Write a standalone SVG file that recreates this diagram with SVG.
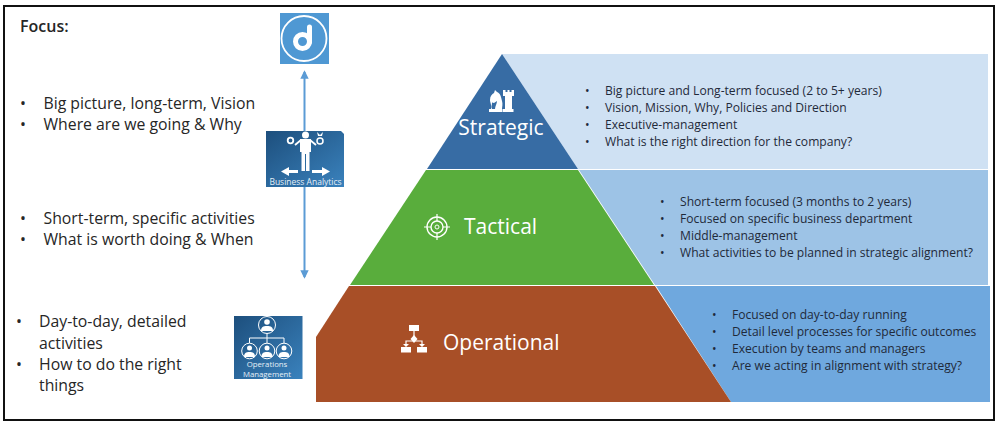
<svg xmlns="http://www.w3.org/2000/svg" width="1000" height="427" viewBox="0 0 1000 427">
<style>
text{font-family:"Open Sans","Noto Sans","Liberation Sans",sans-serif}
.side{font-size:15.800px;fill:#262626}
.body{font-size:12.100px;fill:#1f2a3a}
.lvl{font-size:21px;fill:#fff}
.ic{fill:#fff;stroke:none}
.icl{fill:none;stroke:#fff}
.conn{stroke:#5b9bd5;stroke-width:2;fill:none}
</style>
<defs>
<linearGradient id="blue" x1="0" y1="0" x2="1" y2="1"><stop offset="0" stop-color="#1d4f7d"/><stop offset="1" stop-color="#3a82bd"/></linearGradient>
<marker id="arr" viewBox="0 0 10 10" refX="8" refY="5" markerWidth="4.200" markerHeight="4.500" orient="auto-start-reverse"><path d="M0 0L10 5L0 10Z" fill="#5b9bd5"/></marker>
</defs>
<rect width="1000" height="427" fill="#fff"/>
<rect x="4" y="6" width="990" height="414" fill="#fff" stroke="#111" stroke-width="2"/>

<g id="connectors">
<path class="conn" d="M304.500 72V277" marker-start="url(#arr)" marker-end="url(#arr)"/>
</g>

<g id="panel-strategic"><path d="M502 54H988V169H578Z" fill="#cfe1f3"/>
<text class="body"><tspan x="585" y="95">•</tspan><tspan x="605" y="95">Big picture and Long-term focused (2 to 5+ years)</tspan><tspan x="585" y="112">•</tspan><tspan x="605" y="112">Vision, Mission, Why, Policies and Direction</tspan><tspan x="585" y="129">•</tspan><tspan x="605" y="129">Executive-management</tspan><tspan x="585" y="146">•</tspan><tspan x="605" y="146">What is the right direction for the company?</tspan></text></g>

<g id="panel-tactical"><path d="M579 170H988V285H655Z" fill="#9dc3e6"/>
<text class="body"><tspan x="660" y="206">•</tspan><tspan x="680" y="206">Short-term focused (3 months to 2 years)</tspan><tspan x="660" y="223">•</tspan><tspan x="680" y="223">Focused on specific business department</tspan><tspan x="660" y="240">•</tspan><tspan x="680" y="240">Middle-management</tspan><tspan x="660" y="257">•</tspan><tspan x="680" y="257">What activities to be planned in strategic alignment?</tspan></text></g>

<g id="panel-operational"><path d="M656 286H990V402H731Z" fill="#6fa8de"/>
<text class="body"><tspan x="712" y="319">•</tspan><tspan x="732" y="319">Focused on day-to-day running</tspan><tspan x="712" y="336">•</tspan><tspan x="732" y="336">Detail level processes for specific outcomes</tspan><tspan x="712" y="353">•</tspan><tspan x="732" y="353">Execution by teams and managers</tspan><tspan x="712" y="370">•</tspan><tspan x="732" y="370">Are we acting in alignment with strategy?</tspan></text></g>

<g id="strategic"><path d="M502 54L578 169H427Z" fill="#376ca4"/>
<path class="ic" d="M491 109c1-4-1-6-1-9 0-4 2-6 4-7l1-3 2 2c3 1 4 4 5 9 1 3 0 6 0 8h-7c0-3 2-5 2-8l-3 2c-1 0-2-1-2 0 0 2-1 4 0 6Z"/>
<path class="ic" d="M503 90h2.500v2h2v-2h2v2h2v-2h2.500v6h-2v13h-7V96h-2Z"/>
<rect class="ic" x="489" y="109" width="13" height="3"/>
<rect class="ic" x="502.500" y="109" width="11" height="3"/>
<text class="lvl" x="501" y="135" text-anchor="middle">Strategic</text></g>

<g id="tactical"><path d="M426 170H578L654 285H350Z" fill="#59ad3c"/>
<circle class="icl" cx="437" cy="227" r="10" stroke-width="1.400"/>
<circle class="icl" cx="437" cy="227" r="6" stroke-width="1.400"/>
<circle class="icl" cx="437" cy="227" r="2" stroke-width="1"/>
<path class="icl" d="M437 214v7M437 233v7M424 227h7M443 227h7" stroke-width="1.200"/>
<text class="lvl" x="464" y="234">Tactical</text></g>

<g id="operational"><path d="M349 286H655L731 402H316V337Z" fill="#a84f27"/>
<rect class="ic" x="409" y="325" width="10" height="6"/>
<path class="icl" d="M414 331v8M406 345v-4h16v4" stroke-width="1.200"/>
<path class="ic" d="M414 335l3.500 4-3.500 4-3.500-4ZM403 344h6l-3 3ZM419 344h6l-3 3Z"/>
<rect class="ic" x="401" y="347" width="10" height="5.500"/>
<rect class="ic" x="417" y="347" width="10" height="5.500"/>
<text class="lvl" x="443" y="350">Operational</text></g>

<g id="focus-label"><text x="20" y="32" font-size="16" font-weight="600" fill="#262626">Focus:</text></g>

<g id="focus-strategic"><text class="side"><tspan x="20" y="109">•</tspan><tspan x="43.500" y="109">Big picture, long-term, Vision</tspan><tspan x="20" y="130">•</tspan><tspan x="43.500" y="130">Where are we going &amp; Why</tspan></text></g>
<g id="focus-tactical"><text class="side"><tspan x="20" y="224">•</tspan><tspan x="43.500" y="224">Short-term, specific activities</tspan><tspan x="20" y="245">•</tspan><tspan x="43.500" y="245">What is worth doing &amp; When</tspan></text></g>
<g id="focus-operational"><text class="side"><tspan x="16" y="327">•</tspan><tspan x="39" y="327">Day-to-day, detailed</tspan><tspan x="39" y="348.500">activities</tspan><tspan x="16" y="370">•</tspan><tspan x="39" y="370">How to do the right</tspan><tspan x="39" y="391">things</tspan></text></g>

<g id="d-logo"><rect x="280" y="13" width="49" height="51" fill="#4f98d3"/>
<circle cx="304" cy="38.500" r="22.500" fill="none" stroke="#fff" stroke-width="1.800"/>
<circle cx="302.500" cy="41.500" r="7" fill="none" stroke="#fff" stroke-width="5"/>
<path d="M309.500 27V42" stroke="#fff" stroke-width="5" stroke-linecap="round" fill="none"/></g>

<g id="business-analytics"><path d="M266 131H341L344 134V187H266Z" fill="url(#blue)"/>
<circle class="ic" cx="305.500" cy="135" r="3.500"/>
<path class="ic" d="M300 139h11v13h-1.500v19h-3.500v-17h-1v17h-3.500v-19H300Z"/>
<path class="icl" d="M301 140L295 145M310 140L316 145" stroke-width="1.800"/>
<circle class="icl" cx="290.500" cy="140.500" r="2.800" stroke-width="1.800"/>
<circle class="icl" cx="320" cy="141" r="3" stroke-width="1.500"/>
<path class="ic" d="M317 132l3 3 3-3-1 4h-4Z"/>
<path class="ic" d="M281 171.500L289 167V170H298V173H289V176Z"/>
<path class="ic" d="M330 171.500L322 167V170H312V173H322V176Z"/>
<text x="305.500" y="185" font-size="8.500" fill="#e6f0f8" text-anchor="middle">Business Analytics</text></g>

<g id="operations-management"><rect x="234" y="316" width="68.500" height="63" fill="url(#blue)"/>
<g class="icl" stroke-width="1">
<circle cx="267" cy="325" r="8.500"/><circle cx="249.500" cy="351" r="7.800"/><circle cx="267" cy="351" r="7.800"/><circle cx="284" cy="351" r="7.800"/>
<path d="M267 333.500V338M249.500 343V338H284V343M267 338V343"/></g>
<g class="ic"><circle cx="267" cy="322" r="2.800"/><path d="M261 331c0-4 2-5 6-5s6 1 6 5Z"/>
<circle cx="249.500" cy="348" r="2.500"/><path d="M244 357c0-4 2-5 5.500-5s5.500 1 5.500 5Z"/>
<circle cx="267" cy="348" r="2.500"/><path d="M261.500 357c0-4 2-5 5.500-5s5.500 1 5.500 5Z"/>
<circle cx="284" cy="348" r="2.500"/><path d="M278.500 357c0-4 2-5 5.500-5s5.500 1 5.500 5Z"/></g>
<text font-size="7.800" fill="#e6f0f8" text-anchor="middle"><tspan x="267" y="367">Operations</tspan><tspan x="267" y="377">Management</tspan></text></g>
</svg>
